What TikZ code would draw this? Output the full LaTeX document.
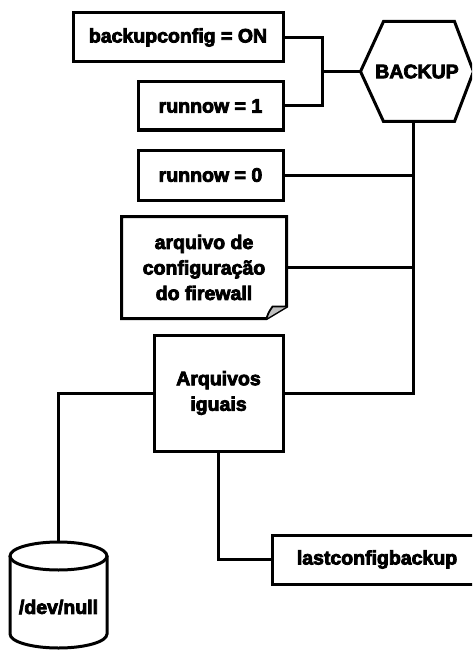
\documentclass[tikz,border=0pt]{standalone}
\usepackage{fontspec}
\newfontfamily\lbl{Liberation Sans}[UprightFont=*-Bold,UprightFeatures={FakeBold=4}]
\usetikzlibrary{calc}
\begin{document}
\begin{tikzpicture}[x=1pt,y=-1pt,line width=3pt,line join=miter,
  lbltext/.style={font=\lbl\fontsize{19.5}{25.5}\selectfont,align=center,inner sep=0pt},
  box/.style={lbltext,draw,rectangle}]
\useasboundingbox (0,0) rectangle (472,650);
\clip (0,0) rectangle (472,650);

% settings / inputs
\node[box,minimum width=210pt,minimum height=49pt] (cfg) at (178,37.5) {backupconfig = ON};
\node[box,minimum width=145pt,minimum height=48pt] (run1) at (210.5,106) {runnow = 1};
\node[box,minimum width=145pt,minimum height=50pt] (run0) at (210.5,175) {runnow = 0};

% backup process (hexagon)
\node[lbltext,minimum width=110pt,minimum height=97pt] (bk) at (417,71.5) {BACKUP};
\draw (bk.west) -- ($(bk.north west)+(23pt,0pt)$) -- ($(bk.north east)+(-19pt,0pt)$)
  -- (bk.east) -- ($(bk.south east)+(-19pt,0pt)$) -- ($(bk.south west)+(23pt,0pt)$) -- cycle;

% firewall configuration file (note with folded corner)
\node[lbltext,minimum width=162pt,minimum height=99pt] (conf) at (204,267.5)
  {arquivo de\\configuração\\do firewall};
\draw (conf.south west) -- (conf.north west) -- (conf.north east)
  -- ($(conf.south east)+(0pt,12pt)$) -- ($(conf.south east)+(-20pt,0pt)$) -- cycle;
\draw[line width=1.8pt,fill=black!25] ($(conf.south east)+(-20pt,0pt)$)
  .. controls ($(conf.south east)+(-18pt,6pt)$) .. ($(conf.south east)+(-14pt,12pt)$)
  -- ($(conf.south east)+(0pt,12pt)$);

% comparison and outputs
\node[box,minimum width=129pt,minimum height=116pt] (eq) at (218.5,393) {Arquivos\\iguais};
\node[box,minimum width=210pt,minimum height=49pt] (last) at (377,559.5) {lastconfigbackup};

% /dev/null cylinder
\draw (58.5,556) ellipse [x radius=48.5pt,y radius=14pt];
\draw (10,556) -- (10,634) arc[start angle=180,end angle=360,x radius=48.5pt,y radius=14pt] -- (107,556);
\node[lbltext] (null) at (58.5,607) {/dev/null};
\coordinate (dbtop) at (58.5,542);

% connectors
\coordinate (jn) at (322,71.5);
\coordinate (bus) at (413,0);
\draw (cfg.east) -| (jn) |- (run1.east);
\draw (jn) -- (bk.west);
\draw (bk.south -| bus) -- (eq.east -| bus) -- (eq.east);
\draw (run0.east) -- (run0.east -| bus);
\draw (conf.east) -- (conf.east -| bus);
\draw (eq.west) -| (dbtop);
\draw (eq.south) |- (last.west);
\end{tikzpicture}
\end{document}
